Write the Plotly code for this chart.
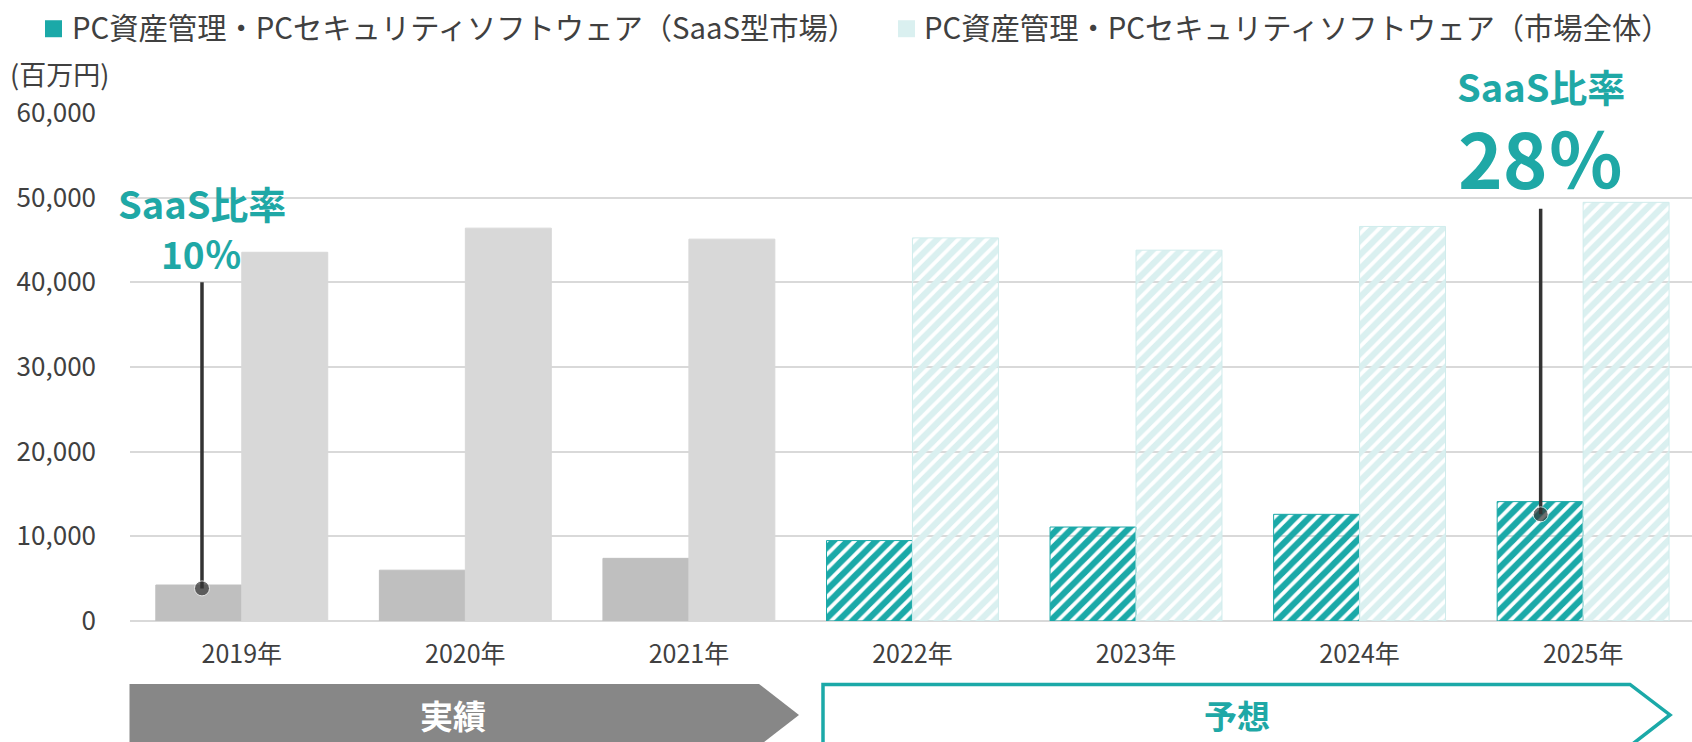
import plotly.graph_objects as go

# ---------------- data ----------------
categories = ["2019年", "2020年", "2021年", "2022年", "2023年", "2024年", "2025年"]
saas_market = [4250, 6000, 7400, 9500, 11100, 12600, 14100]        # 百万円
total_market = [43550, 46400, 45100, 45250, 43800, 46600, 49450]   # 百万円
is_forecast = [False, False, False, True, True, True, True]
series_names = ["PC資産管理・PCセキュリティソフトウェア（SaaS型市場）",
                "PC資産管理・PCセキュリティソフトウェア（市場全体）"]
y_ticks = [0, 10000, 20000, 30000, 40000, 50000, 60000]
callout_cat = [0, 6]
callout_top = [40000, 48700]
callout_bottom = [3850, 12600]
callout_title = ["SaaS比率", "SaaS比率"]
callout_value = ["10％", "28％"]
phase_labels = ["実績", "予想"]

# ---------------- styles / layout ----------------
W, H = 1692, 742
PL, PR_, PT, PB = 130, 1692, 112.8, 621
FONT = "Noto Sans CJK JP"
TEAL = "#1BA9A8"
TEAL_TXT = "#1FA8A6"
LIGHT = "#DAF0F0"
LIGHT_LINE = "#D0ECEC"
GRAY_S = "#BFBFBF"
GRAY_T = "#D8D8D8"
GRID = "#D9D9D9"
ARROW_GRAY = "#878787"
TXT = "#404040"
callout_offset = [-0.178, -0.19]


def px_x(px):
    return (px - PL) / (PR_ - PL)


def px_y(py):
    return (PB - py) / (PB - PT)


idx = list(range(len(categories)))

saas_colors = [TEAL if f else GRAY_S for f in is_forecast]
total_colors = [LIGHT if f else GRAY_T for f in is_forecast]
total_lines = [LIGHT_LINE if f else GRAY_T for f in is_forecast]
shapes_pat = ["/" if f else "" for f in is_forecast]

fig = go.Figure()
fig.add_bar(
    x=idx, y=saas_market, name=series_names[0], showlegend=False,
    marker=dict(color=saas_colors, line=dict(color=saas_colors, width=1),
                pattern=dict(shape=shapes_pat, fillmode="replace", bgcolor="white",
                             size=10, solidity=0.62)),
    hoverinfo="y",
)
fig.add_bar(
    x=idx, y=total_market, name=series_names[1], showlegend=False,
    marker=dict(color=total_colors, line=dict(color=total_lines, width=1),
                pattern=dict(shape=shapes_pat, fillmode="replace", bgcolor="white",
                             size=10, solidity=0.62)),
    hoverinfo="y",
)

# callout lines with dots
cx, cy, cs = [], [], []
for c, off, t, b in zip(callout_cat, callout_offset, callout_top, callout_bottom):
    cx += [c + off, c + off, None]
    cy += [t, b, None]
    cs += [0, 15, 0]
fig.add_scatter(x=cx, y=cy, mode="lines+markers", showlegend=False,
                line=dict(color="#333333", width=3.5),
                marker=dict(size=cs, color="#333333"), hoverinfo="skip")

annotations = []
shapes = []

# callout texts
title_y = [202, 85]
value_y = [253, 156]
title_size = [38, 38]
value_size = [37, 76]
for i, (c, off) in enumerate(zip(callout_cat, callout_offset)):
    annotations.append(dict(x=c + off, xref="x", y=px_y(title_y[i]), yref="paper",
                            text=f"<b>{callout_title[i]}</b>", showarrow=False,
                            xanchor="center", yanchor="middle",
                            font=dict(family=FONT, size=title_size[i], color=TEAL_TXT)))
    annotations.append(dict(x=c + off, xref="x", y=px_y(value_y[i]), yref="paper",
                            text=f"<b>{callout_value[i]}</b>", showarrow=False,
                            xanchor="center", yanchor="middle",
                            font=dict(family=FONT, size=value_size[i], color=TEAL_TXT)))

# legend (custom)
leg_sq = [(45, TEAL), (898, LIGHT)]
leg_tx = [70, 922]
for (sx, col), tx, name in zip(leg_sq, leg_tx, series_names):
    shapes.append(dict(type="rect", xref="paper", yref="paper",
                       x0=px_x(sx), x1=px_x(sx + 17), y0=px_y(37), y1=px_y(20),
                       fillcolor=col, line=dict(width=0)))
    annotations.append(dict(x=px_x(tx), xref="paper", y=px_y(26), yref="paper",
                            text=name, showarrow=False, xanchor="left", yanchor="middle",
                            font=dict(family=FONT, size=29.3, color=TXT)))

# unit label
annotations.append(dict(x=px_x(8), xref="paper", y=px_y(73), yref="paper",
                        text="(百万円)", showarrow=False, xanchor="left", yanchor="middle",
                        font=dict(family=FONT, size=27, color=TXT)))

# phase arrows
def arrow_path(x0, x1, xt, y0, ym, y1):
    pts = [(x0, y0), (x1, y0), (xt, ym), (x1, y1), (x0, y1)]
    return "M " + " L ".join(f"{px_x(a):.5f},{px_y(b):.5f}" for a, b in pts) + " Z"

shapes.append(dict(type="path", xref="paper", yref="paper",
                   path=arrow_path(129.5, 759, 799, 684, 715, 746),
                   fillcolor=ARROW_GRAY, line=dict(width=0)))
shapes.append(dict(type="path", xref="paper", yref="paper",
                   path=arrow_path(823, 1630, 1670, 684.5, 715, 746),
                   fillcolor="rgba(0,0,0,0)", line=dict(color=TEAL, width=3.5)))
annotations.append(dict(x=px_x(453), xref="paper", y=px_y(715), yref="paper",
                        text=f"<b>{phase_labels[0]}</b>", showarrow=False,
                        xanchor="center", yanchor="middle",
                        font=dict(family=FONT, size=33, color="white")))
annotations.append(dict(x=px_x(1237), xref="paper", y=px_y(715), yref="paper",
                        text=f"<b>{phase_labels[1]}</b>", showarrow=False,
                        xanchor="center", yanchor="middle",
                        font=dict(family=FONT, size=33, color=TEAL_TXT)))

fig.update_layout(
    width=W, height=H,
    margin=dict(l=PL, r=W - PR_, t=PT, b=H - PB, pad=0),
    paper_bgcolor="white", plot_bgcolor="white",
    barmode="group", bargap=0.231, bargroupgap=0,
    font=dict(family=FONT, color=TXT),
    shapes=shapes, annotations=annotations,
    xaxis=dict(type="linear", range=[-0.5, 6.487], tickvals=idx, ticktext=categories,
               showgrid=False, zeroline=False, showline=False, ticks="",
               tickfont=dict(family=FONT, size=25, color=TXT), ticklabelstandoff=16),
    yaxis=dict(range=[0, 60000], tickvals=y_ticks, tickformat=",",
               showgrid=True, gridcolor=GRID, gridwidth=1.6,
               zeroline=True, zerolinecolor=GRID, zerolinewidth=1.6,
               showline=False, ticks="",
               tickfont=dict(family=FONT, size=26, color=TXT), ticklabelstandoff=33),
    showlegend=False,
)

fig.write_html("out.html", config={"displayModeBar": False},
               post_script="document.body.style.margin='0';document.body.style.padding='0';document.body.style.overflow='hidden';")
